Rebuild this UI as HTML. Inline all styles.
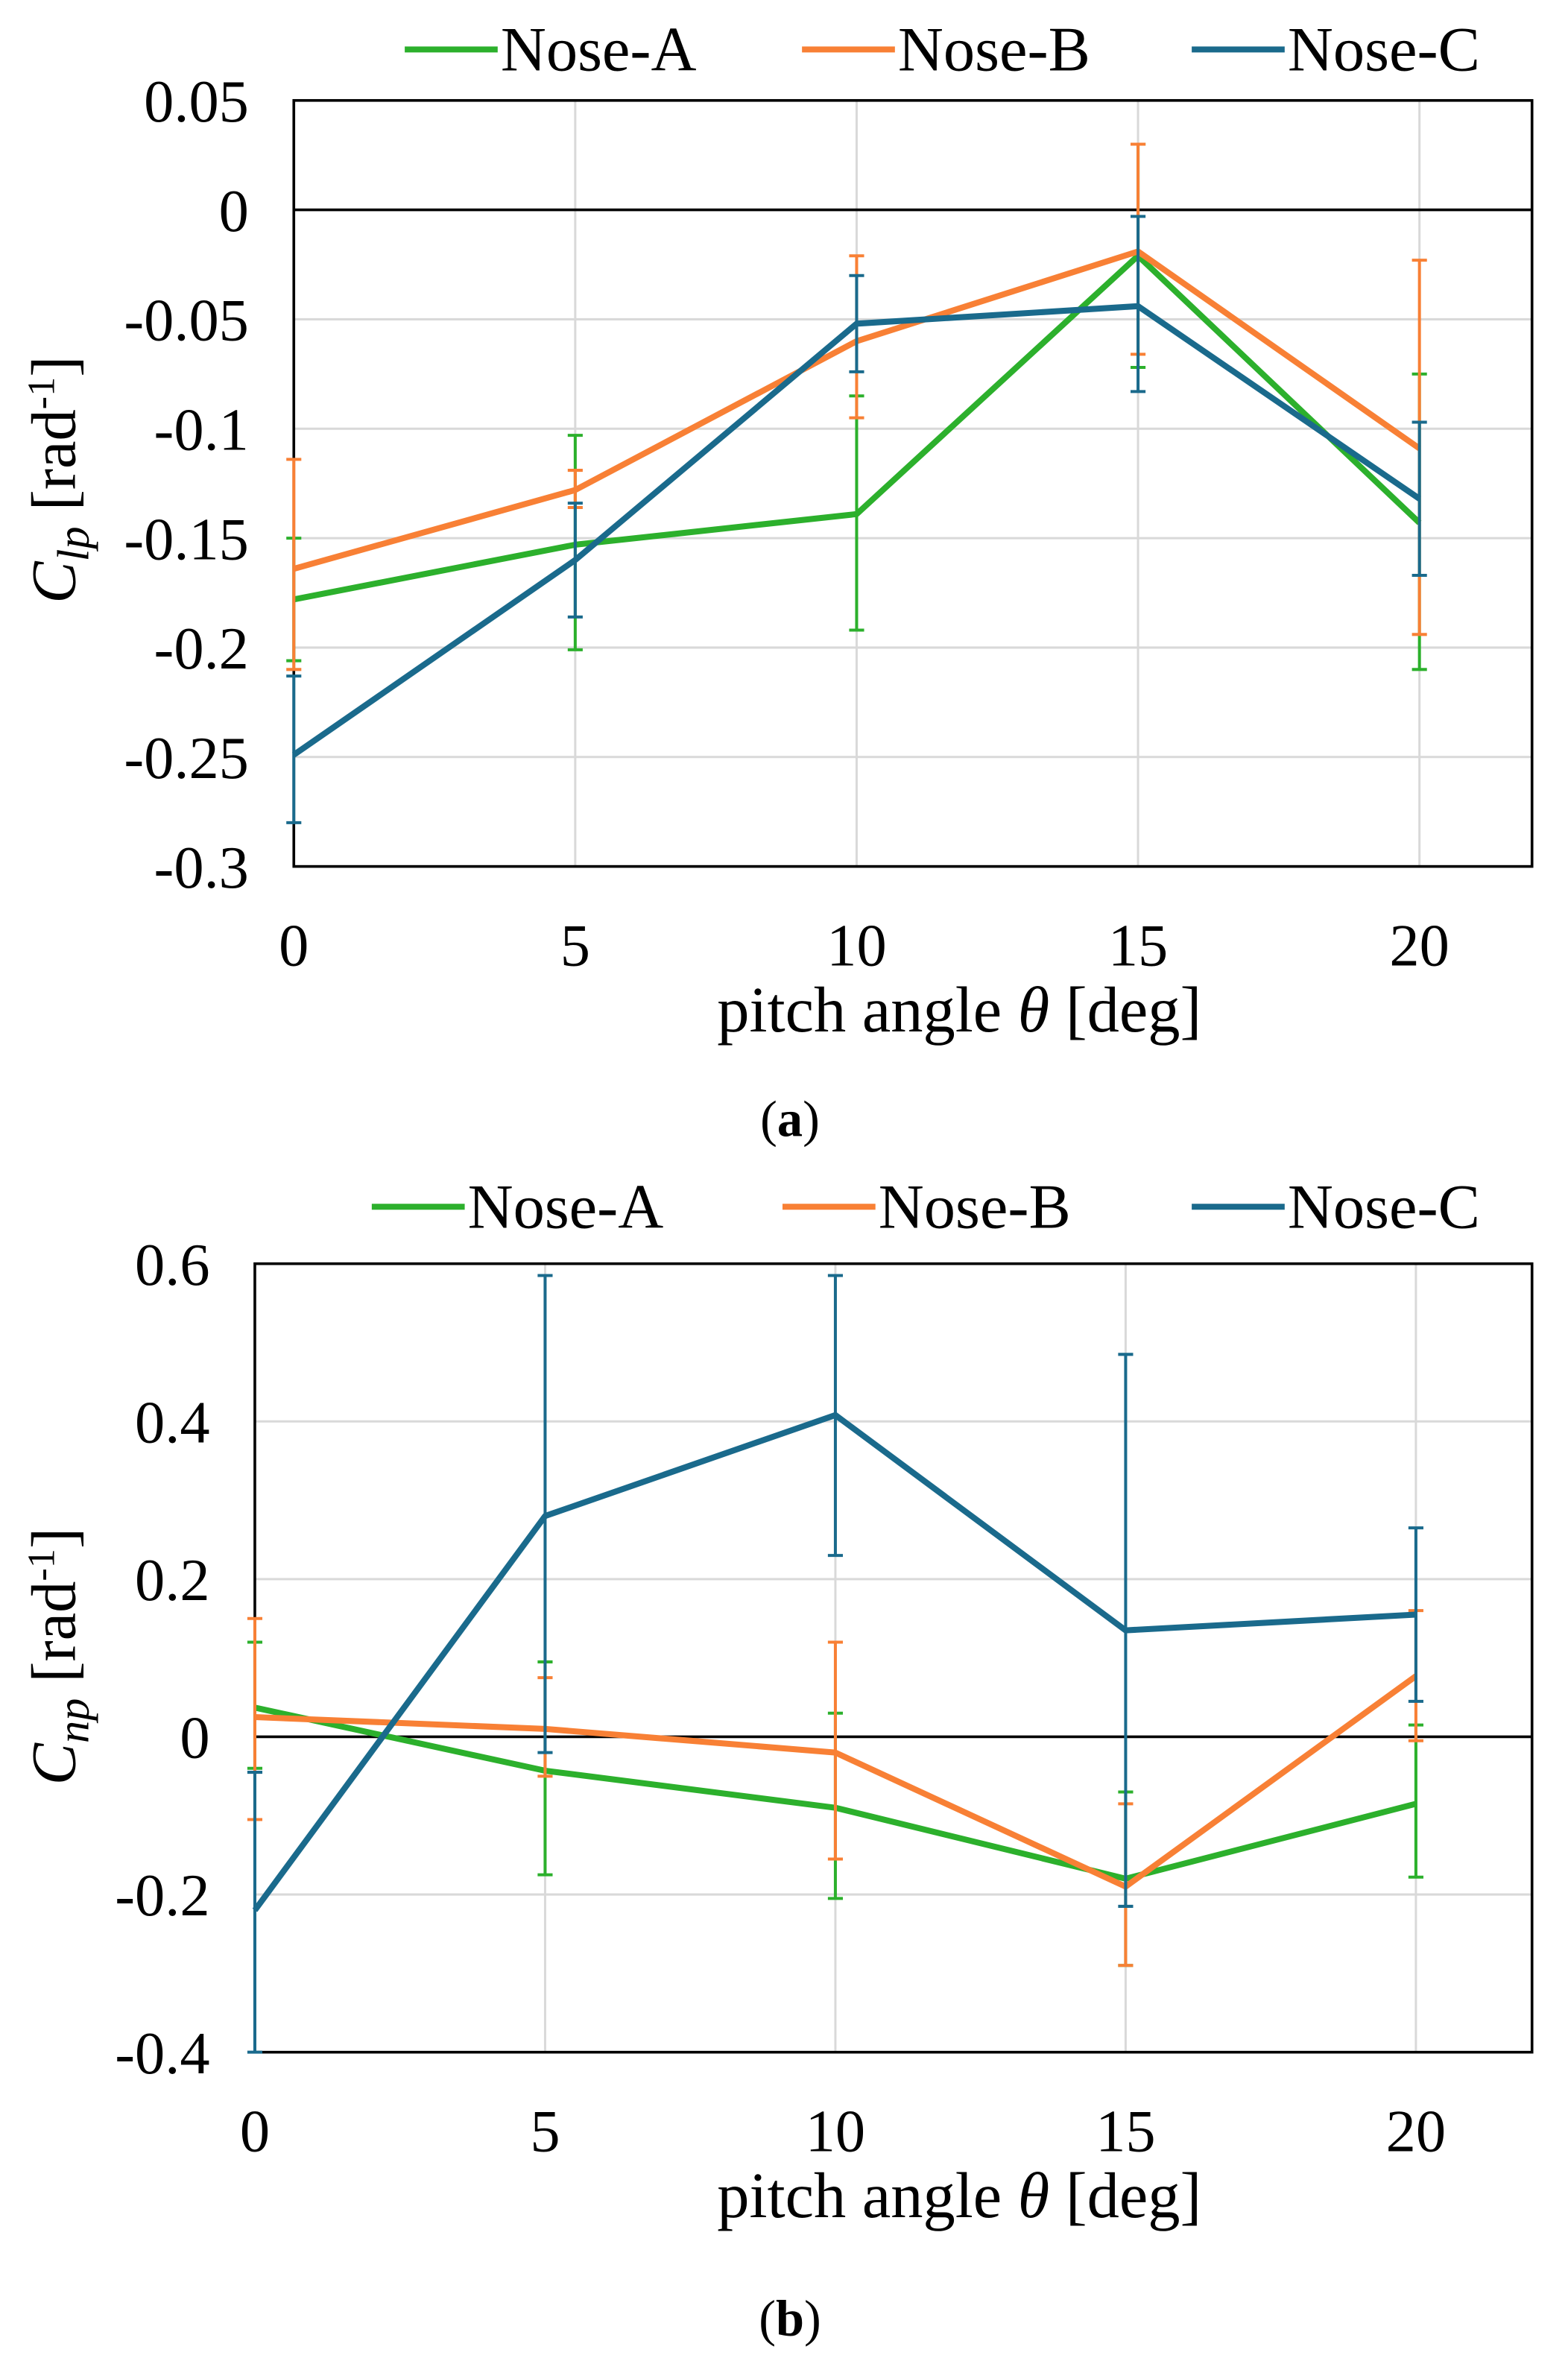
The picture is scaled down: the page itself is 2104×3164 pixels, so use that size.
<!DOCTYPE html>
<html><head><meta charset="utf-8"><style>
html,body{margin:0;padding:0;background:#fff}
svg{display:block}
text{font-family:"Liberation Serif",serif;fill:#000}
</style></head><body>
<svg id="s" width="2104" height="3164" viewBox="0 0 1046 1573" xmlns="http://www.w3.org/2000/svg"></svg>
<script>
const categories=[0,5,10,15,20];
const seriesNames=["Nose-A","Nose-B","Nose-C"];
const colors=["#2cb02c","#f88035","#1a6a8c"];
// chart a
const aA=[-0.178,-0.153,-0.139,-0.021,-0.143];
const aAhi=[-0.150,-0.103,-0.085,0.030,-0.075];
const aAlo=[-0.206,-0.201,-0.192,-0.072,-0.210];
const aB=[-0.164,-0.128,-0.060,-0.019,-0.109];
const aBhi=[-0.114,-0.119,-0.021,0.030,-0.023];
const aBlo=[-0.210,-0.136,-0.095,-0.066,-0.194];
const aC=[-0.249,-0.160,-0.052,-0.044,-0.132];
const aChi=[-0.213,-0.134,-0.030,-0.003,-0.097];
const aClo=[-0.280,-0.186,-0.074,-0.083,-0.167];
const aTicks=["0.05","0","-0.05","-0.1","-0.15","-0.2","-0.25","-0.3"];
// chart b
const bA=[0.037,-0.043,-0.090,-0.180,-0.085];
const bAhi=[0.120,0.095,0.030,-0.070,0.015];
const bAlo=[-0.040,-0.175,-0.205,-0.290,-0.178];
const bB=[0.025,0.010,-0.020,-0.190,0.077];
const bBhi=[0.150,0.075,0.120,-0.085,0.160];
const bBlo=[-0.105,-0.050,-0.155,-0.290,-0.005];
const bC=[-0.220,0.280,0.408,0.135,0.155];
const bChi=[-0.045,0.585,0.585,0.485,0.265];
const bClo=[-0.400,-0.020,0.230,-0.215,0.045];
const bTicks=["0.6","0.4","0.2","0","-0.2","-0.4"];
const xTicks=["0","5","10","15","20"];

const NS="http://www.w3.org/2000/svg";
const svg=document.getElementById('s');
function el(tag,attrs,parent,txt){const e=document.createElementNS(NS,tag);for(const k in attrs)e.setAttribute(k,attrs[k]);if(txt!==undefined)e.textContent=txt;(parent||svg).appendChild(e);return e;}

function chart(cfg){
  const g=el('g',{});
  
  
  const X=v=>cfg.x0+(v-0)/22*(cfg.x1-cfg.x0);
  const Y=v=>cfg.y0+(cfg.ymax-v)/(cfg.ymax-cfg.ymin)*(cfg.y1-cfg.y0);
  xTicks.forEach(t=>{const v=+t;if(v>0){const l=el('line',{x1:X(v),x2:X(v),y1:cfg.y0,y2:cfg.y1,stroke:'#d9d9d9','stroke-width':1.5},g);}});
  cfg.ticks.forEach(t=>{const v=+t;const l=el('line',{x1:cfg.x0,x2:cfg.x1,y1:Y(v),y2:Y(v),stroke:v===0?'#000':'#d9d9d9','stroke-width':v===0?1.8:1.5},g);
    const tx=el('text',{x:cfg.x0-30,y:Y(v)+14,'font-size':40,'text-anchor':'end'},g,t);});
  xTicks.forEach(t=>{const tx=el('text',{x:X(+t),y:cfg.y1+66,'font-size':40,'text-anchor':'middle'},g,t);});
  const b=el('rect',{x:cfg.x0,y:cfg.y0,width:cfg.x1-cfg.x0,height:cfg.y1-cfg.y0,fill:'none',stroke:'#000','stroke-width':1.8},g);
  
  cfg.series.forEach((s,i)=>{
    const sg=el('g',{},g);
    
    
    categories.forEach((c,j)=>{
      const x=X(c);
      const e=el('path',{d:`M${x},${Y(s.hi[j])}V${Y(s.lo[j])}M${x-5},${Y(s.hi[j])}H${x+5}M${x-5},${Y(s.lo[j])}H${x+5}`,stroke:colors[i],'stroke-width':2,fill:'none'},sg);
      
    });
    const p=el('polyline',{points:categories.map((c,j)=>X(c)+','+Y(s.v[j])).join(' '),fill:'none',stroke:colors[i],'stroke-width':4,'stroke-linejoin':'round'},sg);
    
  });
  cfg.legend.forEach((lx,i)=>{
    const lg=el('g',{},g);
    
    
    el('line',{x1:lx,x2:lx+62,y1:cfg.ly,y2:cfg.ly,stroke:colors[i],'stroke-width':4},lg);
    el('text',{x:lx+64,y:cfg.ly+14,'font-size':42},lg,seriesNames[i]);
  });
  const xl=el('text',{x:cfg.xlx,y:cfg.y1+110,'font-size':43,'text-anchor':'middle'},g);
  
  xl.innerHTML='pitch angle <tspan font-style="italic">θ</tspan> [deg]';
  const yl=el('text',{transform:`translate(${cfg.ylx},${cfg.yly}) rotate(-90)`,'font-size':42,'text-anchor':'middle'},g);
  
  yl.innerHTML=cfg.ylab;
  const cap=el('text',{x:527,y:cfg.capy,'font-size':34,'text-anchor':'middle'},g);
  
  cap.innerHTML=cfg.cap;
}
chart({name:'chart-a',x0:196,x1:1022,y0:67,y1:578,ymax:0.05,ymin:-0.3,ticks:aTicks,
  series:[{v:aA,hi:aAhi,lo:aAlo},{v:aB,hi:aBhi,lo:aBlo},{v:aC,hi:aChi,lo:aClo}],
  legend:[270,535,795],ly:33,xlx:640,ylx:50,yly:320,
  ylab:'<tspan font-style="italic">C</tspan><tspan font-style="italic" font-size="30" dy="9">lp</tspan><tspan dy="-9"> [rad</tspan><tspan font-size="26" dy="-14">-1</tspan><tspan dy="14">]</tspan>',
  capy:758,cap:'(<tspan font-weight="bold">a</tspan>)'});
chart({name:'chart-b',x0:170,x1:1022,y0:843,y1:1369,ymax:0.6,ymin:-0.4,ticks:bTicks,
  series:[{v:bA,hi:bAhi,lo:bAlo},{v:bB,hi:bBhi,lo:bBlo},{v:bC,hi:bChi,lo:bClo}],
  legend:[248,522,795],ly:805,xlx:640,ylx:50,yly:1105,
  ylab:'<tspan font-style="italic">C</tspan><tspan font-style="italic" font-size="30" dy="9">np</tspan><tspan dy="-9">  [rad</tspan><tspan font-size="26" dy="-14">-1</tspan><tspan dy="14">]</tspan>',
  capy:1558,cap:'(<tspan font-weight="bold">b</tspan>)'});
</script>
</body></html>
